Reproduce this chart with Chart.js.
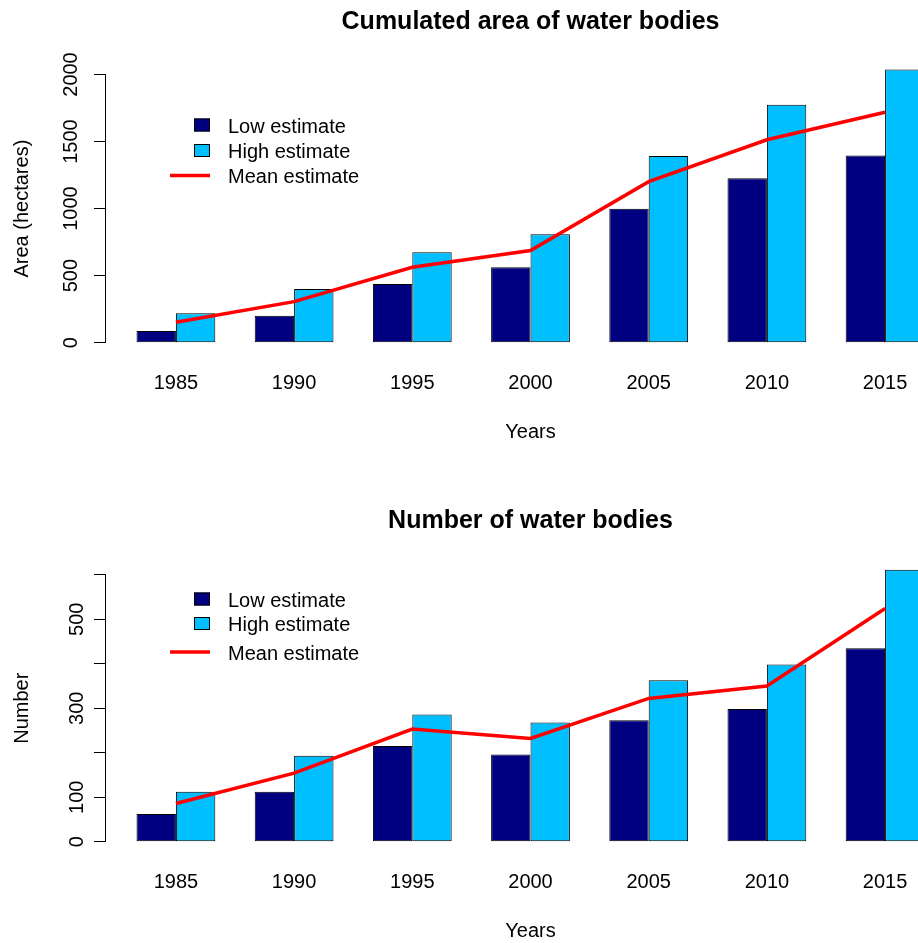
<!DOCTYPE html>
<html>
<head>
<meta charset="utf-8">
<script src="https://cdn.jsdelivr.net/npm/chart.js@4"></script>
<style>
  body { margin: 0; width: 918px; height: 943px; overflow: hidden; background: #fff; }
  .panel { position: absolute; left: 0; }
</style>
</head>
<body>
<div class="panel" style="top:0"><canvas id="areaChart" width="956" height="470"></canvas></div>
<div class="panel" style="top:470px"><canvas id="countChart" width="956" height="473"></canvas></div>
<script>
const years = [1985, 1990, 1995, 2000, 2005, 2010, 2015];

// cumulated area (hectares)
const areaLow = [87, 201, 438, 563, 998, 1227, 1396];
const areaHigh = [219, 401, 675, 809, 1393, 1774, 2037];
const areaMean = [152, 306, 563, 687, 1201, 1513, 1719];
const areaTicks = [0, 500, 1000, 1500, 2000];
const areaTickLabels = ["0", "500", "1000", "1500", "2000"];

// number of water bodies
const countLow = [62, 112, 215, 196, 273, 298, 435];
const countHigh = [112, 193, 286, 268, 363, 398, 611];
const countMean = [86, 154, 253, 232, 322, 350, 524];
const countTicks = [0, 100, 200, 300, 400, 500, 600];
const countTickLabels = ["0", "100", "", "300", "", "500", ""];

const seriesNames = ["Low estimate", "High estimate", "Mean estimate"];
const lowColor = "#000080";
const highColor = "#00BFFF";
const meanColor = "#FF0000";
const family = "'Liberation Sans', Arial, sans-serif";

// R style legend drawn inside the plot area
const insideLegend = {
  id: "insideLegend",
  afterDatasetsDraw(chart, args, opts) {
    const ctx = chart.ctx;
    ctx.save();
    ctx.font = "20px " + family;
    ctx.textBaseline = "middle";
    chart.data.datasets.forEach((ds, i) => {
      const y = opts.rows[i];
      if (ds.type === "line") {
        ctx.strokeStyle = ds.borderColor;
        ctx.lineWidth = ds.borderWidth;
        ctx.beginPath();
        ctx.moveTo(opts.lineX[0], y);
        ctx.lineTo(opts.lineX[1], y);
        ctx.stroke();
      } else {
        ctx.fillStyle = ds.backgroundColor;
        ctx.fillRect(opts.boxX, y - 6.5, 16, 13);
        ctx.strokeStyle = "#000";
        ctx.lineWidth = 1;
        ctx.strokeRect(opts.boxX + 0.5, y - 6, 15, 12);
      }
      ctx.fillStyle = "#000";
      ctx.fillText(ds.label, opts.textX, y + 2);
    });
    ctx.restore();
  },
};

function toPoints(values) {
  return years.map((year, i) => ({ x: year, y: values[i] }));
}

function barSet(label, values, color) {
  return {
    type: "bar",
    label: label,
    data: toPoints(values),
    backgroundColor: color,
    borderColor: "#000",
    borderWidth: 1,
    borderSkipped: false,
    categoryPercentage: 2 / 3,
    barPercentage: 1,
    order: 1,
    clip: false,
  };
}

function makeChart(id, o) {
  return new Chart(document.getElementById(id), {
    data: {
      datasets: [
        barSet(seriesNames[0], o.low, lowColor),
        barSet(seriesNames[1], o.high, highColor),
        {
          type: "line",
          label: seriesNames[2],
          data: toPoints(o.mean),
          borderColor: meanColor,
          borderWidth: 3.5,
          pointRadius: 0,
          tension: 0,
          order: 0,
          clip: false,
        },
      ],
    },
    options: {
      responsive: false,
      animation: false,
      layout: { padding: 0 },
      scales: {
        x: {
          type: "linear",
          offset: false,
          min: 1982,
          max: 2018,
          grid: { display: false, drawTicks: false, offset: false },
          border: { display: false },
          afterBuildTicks: (axis) => {
            axis.ticks = years.map((v) => ({ value: v }));
          },
          afterFit: (axis) => {
            axis.height = o.xAxisHeight;
          },
          ticks: {
            padding: 28.5,
            maxRotation: 0,
            color: "#000",
            font: { size: 20, family: family },
            callback: (value) => String(value),
          },
          title: {
            display: true,
            text: "Years",
            color: "#000",
            font: { size: 20, family: family },
            padding: { top: 0, bottom: o.xTitlePad },
          },
        },
        y: {
          min: 0,
          max: o.yMax,
          afterBuildTicks: (axis) => {
            axis.ticks = o.ticks.map((v) => ({ value: v }));
          },
          afterFit: (axis) => {
            axis.width = 105;
          },
          grid: { drawOnChartArea: false, drawTicks: true, tickLength: 11, color: "#000" },
          border: { display: true, color: "#000" },
          ticks: {
            minRotation: 90,
            maxRotation: 90,
            crossAlign: "center",
            padding: 0,
            color: "#000",
            font: { size: 20, family: family },
            callback: (value, index) => o.tickLabels[index],
          },
          title: {
            display: true,
            text: o.yTitle,
            color: "#000",
            font: { size: 20, family: family },
            padding: { top: 10, bottom: 0 },
          },
        },
      },
      plugins: {
        legend: { display: false },
        tooltip: { enabled: false },
        title: {
          display: true,
          text: o.title,
          fullSize: false,
          color: "#000",
          font: { size: 25, weight: "bold", family: family },
          padding: { top: o.titlePad[0], bottom: o.titlePad[1] },
        },
        insideLegend: o.legend,
      },
    },
    plugins: [insideLegend],
  });
}

makeChart("areaChart", {
  low: areaLow,
  high: areaHigh,
  mean: areaMean,
  ticks: areaTicks,
  tickLabels: areaTickLabels,
  yMax: 2000,
  yTitle: "Area (hectares)",
  title: "Cumulated area of water bodies",
  titlePad: [7, 37.5],
  xAxisHeight: 127.3,
  xTitlePad: 26,
  legend: { boxX: 194, lineX: [170, 210], textX: 228, rows: [125, 150.5, 175.5] },
});

makeChart("countChart", {
  low: countLow,
  high: countHigh,
  mean: countMean,
  ticks: countTicks,
  tickLabels: countTickLabels,
  yMax: 600,
  yTitle: "Number",
  title: "Number of water bodies",
  titlePad: [36, 38.7],
  xAxisHeight: 101.3,
  xTitlePad: 0,
  legend: { boxX: 194, lineX: [170, 210], textX: 228, rows: [129, 153.5, 182] },
});
</script>
</body>
</html>
